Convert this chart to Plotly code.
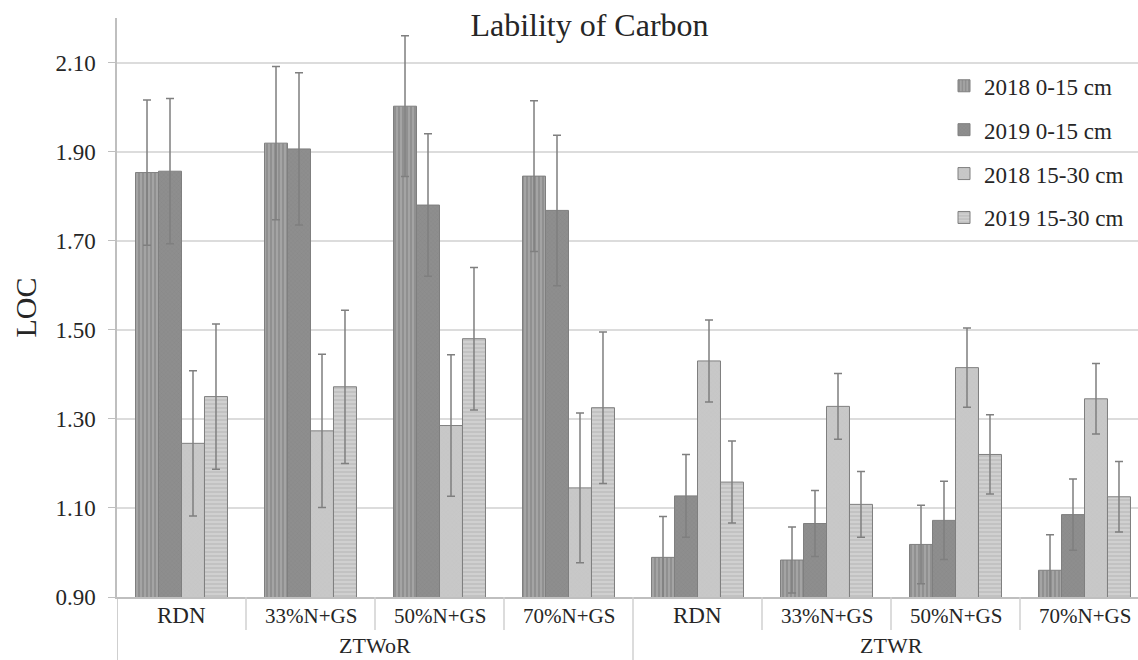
import plotly.graph_objects as go

outer = ["ZTWoR"] * 4 + ["ZTWR"] * 4
inner = ["RDN", "33%N+GS", "50%N+GS", "70%N+GS"] * 2
cats = [o + " " + i for o, i in zip(outer, inner)]

series = ["2018 0-15 cm", "2019 0-15 cm", "2018 15-30 cm", "2019 15-30 cm"]
v2018_0_15 = [1.853, 1.919, 2.002, 1.845, 0.989, 0.983, 1.018, 0.960]
v2019_0_15 = [1.856, 1.906, 1.780, 1.768, 1.127, 1.065, 1.072, 1.085]
v2018_15_30 = [1.245, 1.273, 1.285, 1.145, 1.430, 1.328, 1.415, 1.345]
v2019_15_30 = [1.350, 1.372, 1.480, 1.325, 1.158, 1.108, 1.220, 1.125]
e2018_0_15 = [0.163, 0.172, 0.158, 0.169, 0.092, 0.074, 0.088, 0.080]
e2019_0_15 = [0.163, 0.171, 0.160, 0.169, 0.093, 0.074, 0.088, 0.080]
e2018_15_30 = [0.163, 0.172, 0.159, 0.168, 0.092, 0.074, 0.089, 0.079]
e2019_15_30 = [0.163, 0.172, 0.160, 0.170, 0.092, 0.074, 0.089, 0.079]

values = [v2018_0_15, v2019_0_15, v2018_15_30, v2019_15_30]
errors = [e2018_0_15, e2019_0_15, e2018_15_30, e2019_15_30]

y_ticks = [0.90, 1.10, 1.30, 1.50, 1.70, 1.90, 2.10]

styles = [
    dict(color="#9b9b9b", pattern=dict(shape="|", fgcolor="#6a6a6a", bgcolor="#a4a4a4", size=4, solidity=0.35)),
    dict(color="#8c8c8c", pattern=dict(shape="x", fgcolor="#7a7a7a", bgcolor="#8e8e8e", size=3, solidity=0.2)),
    dict(color="#c6c6c6", pattern=dict(shape="x", fgcolor="#bcbcbc", bgcolor="#c8c8c8", size=3, solidity=0.2)),
    dict(color="#c9c9c9", pattern=dict(shape="-", fgcolor="#a8a8a8", bgcolor="#d0d0d0", size=4, solidity=0.35)),
]

fig = go.Figure()
for i, name in enumerate(series):
    st = styles[i]
    fig.add_trace(go.Bar(
        x=cats, y=values[i], name=name, legendgroup=name,
        marker=dict(color=st["color"], pattern=st["pattern"],
                    line=dict(color="#7f7f7f", width=1)),
        error_y=dict(type="data", array=errors[i], color="#7f7f7f",
                     thickness=1.5, width=4),
    ))

font_family = "'Liberation Serif', 'Times New Roman', 'DejaVu Serif', serif"
n = len(cats)
shapes = []
annotations = []
for k in range(1, n):
    is_outer = (outer[k] != outer[k - 1])
    shapes.append(dict(type="line", xref="x", yref="paper",
                       x0=k - 0.5, x1=k - 0.5, y0=0, y1=-0.112 if is_outer else -0.057,
                       line=dict(color="#d0d0d0", width=1.5)))
shapes.append(dict(type="line", xref="x", yref="paper", x0=-0.5, x1=-0.5,
                   y0=-0.112, y1=0, line=dict(color="#bfbfbf", width=1.5)))
for k in range(n):
    annotations.append(dict(x=cats[k], y=-0.032, xref="x", yref="paper",
                            text=inner[k], showarrow=False,
                            font=dict(family=font_family, size=23 if inner[k] == "RDN" else 21,
                                      color="#262626"),
                            yanchor="middle"))
groups = []
for k, o in enumerate(outer):
    if not groups or groups[-1][0] != o:
        groups.append([o, k, k])
    else:
        groups[-1][2] = k
for o, a, b in groups:
    annotations.append(dict(x=(a + b) / 2, y=-0.084, xref="x", yref="paper",
                            text=o, showarrow=False,
                            font=dict(family=font_family, size=22, color="#262626"),
                            yanchor="middle"))

fig.update_layout(
    width=1138, height=660,
    margin=dict(l=117, r=0, t=18, b=63, autoexpand=False),
    paper_bgcolor="white", plot_bgcolor="white",
    barmode="group", bargap=0.287, bargroupgap=0,
    font=dict(family=font_family, color="#262626"),
    title=dict(text="Lability of Carbon", x=0.518, xref="container", xanchor="center",
               y=0.962, yref="container", yanchor="middle",
               font=dict(family=font_family, size=32, color="#262626")),
    xaxis=dict(type="category", range=[-0.5, n - 0.5 - 11 / 129], showticklabels=False,
               showgrid=False, showline=True, linecolor="#bfbfbf", linewidth=1.5,
               ticks="", zeroline=False),
    yaxis=dict(range=[0.9, 2.2], tickvals=y_ticks, ticktext=["%.2f" % t for t in y_ticks],
               showgrid=True, gridcolor="#dcdcdc", gridwidth=1.5,
               showline=True, linecolor="#bfbfbf", linewidth=1.5,
               ticks="outside", ticklen=7, tickcolor="#bfbfbf",
               tickfont=dict(family=font_family, size=23, color="#262626"),
               ticklabelstandoff=8,
               title=dict(text="LOC", font=dict(family=font_family, size=30, color="#262626"),
                          standoff=10),
               zeroline=False),
    legend=dict(x=0.81, xanchor="left", y=0.92, yanchor="top",
                bgcolor="rgba(0,0,0,0)", tracegroupgap=11,
                font=dict(family=font_family, size=23, color="#262626"),
                itemwidth=30),
    shapes=shapes, annotations=annotations,
)

fig.write_html("out.html")
